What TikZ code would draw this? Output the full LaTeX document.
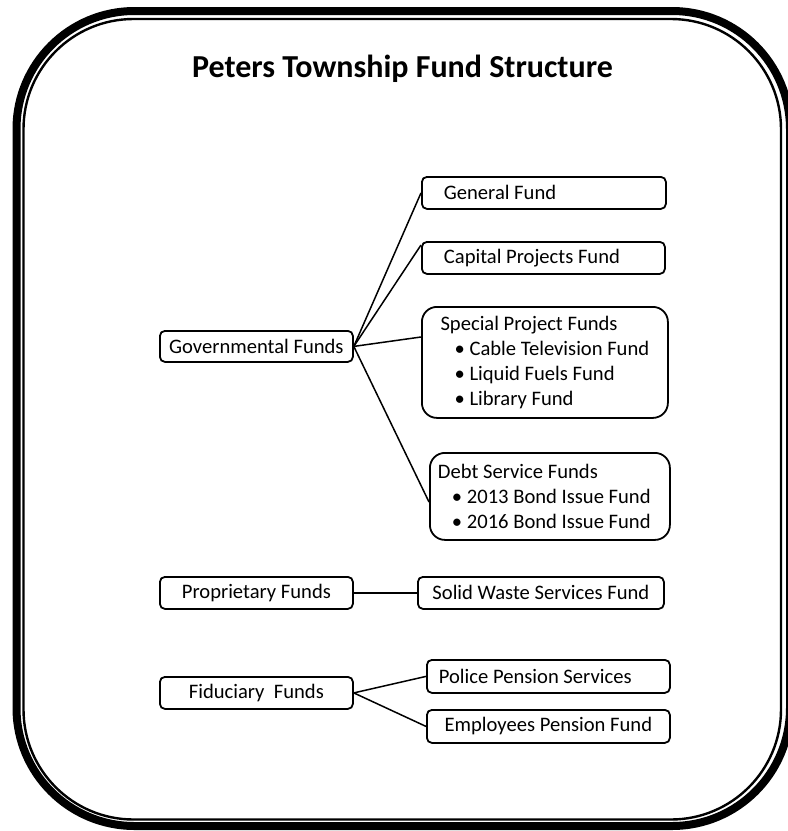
\documentclass[tikz,border=0pt]{standalone}
\usepackage{fontspec}
\setmainfont{Carlito}
\usetikzlibrary{positioning}
\newcommand{\fundpt}{\hspace*{7pt}\makebox[7.5pt][l]{\textbullet}}

\begin{document}
\begin{tikzpicture}[x=0.5pt, y=-0.5pt, font=\fontsize{10.3}{12.4}\selectfont,
  fund/.style={draw, line width=0.9pt, rounded corners=2.5pt, anchor=north west, minimum height=16pt, inner ysep=0pt},
  kind/.style={fund, minimum width=96.5pt, align=center},
  listbox/.style={fund, rounded corners=7.5pt, align=flush left},
  link/.style={line width=0.75pt}]
\useasboundingbox (0,0) rectangle (788,831);
% frame
\draw[line width=4pt, rounded corners=59pt] (16.5,11) rectangle (790,826);
\draw[line width=1.2pt, rounded corners=55pt] (23.5,19) rectangle (781,819.5);
\node[font=\fontsize{16}{19}\selectfont\bfseries, anchor=base] (title) at (402.5,77.5) {Peters Township Fund Structure};
% governmental
\node[kind, minimum height=15.5pt] (gov) at (159,330) {Governmental Funds};
\node[fund, text width=100pt, inner xsep=11pt, align=flush left] (gen) at (421,176) {General Fund};
\node[fund, text width=99.5pt, inner xsep=11pt, align=flush left] (cap) at (421,241) {Capital Projects Fund};
\node[listbox, minimum width=123pt, minimum height=55.5pt] (spf) at (421,306)
  {Special Project Funds\\\fundpt Cable Television Fund\\\fundpt Liquid Fuels Fund\\\fundpt Library Fund};
\node[listbox, text width=112pt, inner xsep=4pt, minimum height=43.5pt] (dsf) at (429,452)
  {Debt Service Funds\\\fundpt 2013 Bond Issue Fund\\\fundpt 2016 Bond Issue Fund};
% proprietary
\node[kind] (prop) at (159,576) {Proprietary Funds};
\node[fund, minimum width=123pt, align=center] (swf) at (417,576) {Solid Waste Services Fund};
% fiduciary
\node[kind] (fid) at (159,676) {Fiduciary\ \ Funds};
\node[fund, text width=109.5pt, inner xsep=6pt, align=flush left, minimum height=16.5pt] (ppf) at (426,659) {Police Pension Services};
\node[fund, minimum width=121.5pt, align=center, minimum height=16.5pt] (epf) at (426,709) {Employees Pension Fund};
% connectors
\draw[link] (gov.east) -- (gen.west);
\draw[link] (gov.east) -- ([yshift=-2pt]cap.north west);
\draw[link] (gov.east) -- ([yshift=-15.5pt]spf.north west);
\draw[link] (gov.east) -- ([yshift=-25pt]dsf.north west);
\draw[link] (prop.east) -- (swf.west);
\draw[link] (fid.east) -- (ppf.west);
\draw[link] (fid.east) -- (epf.west);
\end{tikzpicture}
\end{document}
